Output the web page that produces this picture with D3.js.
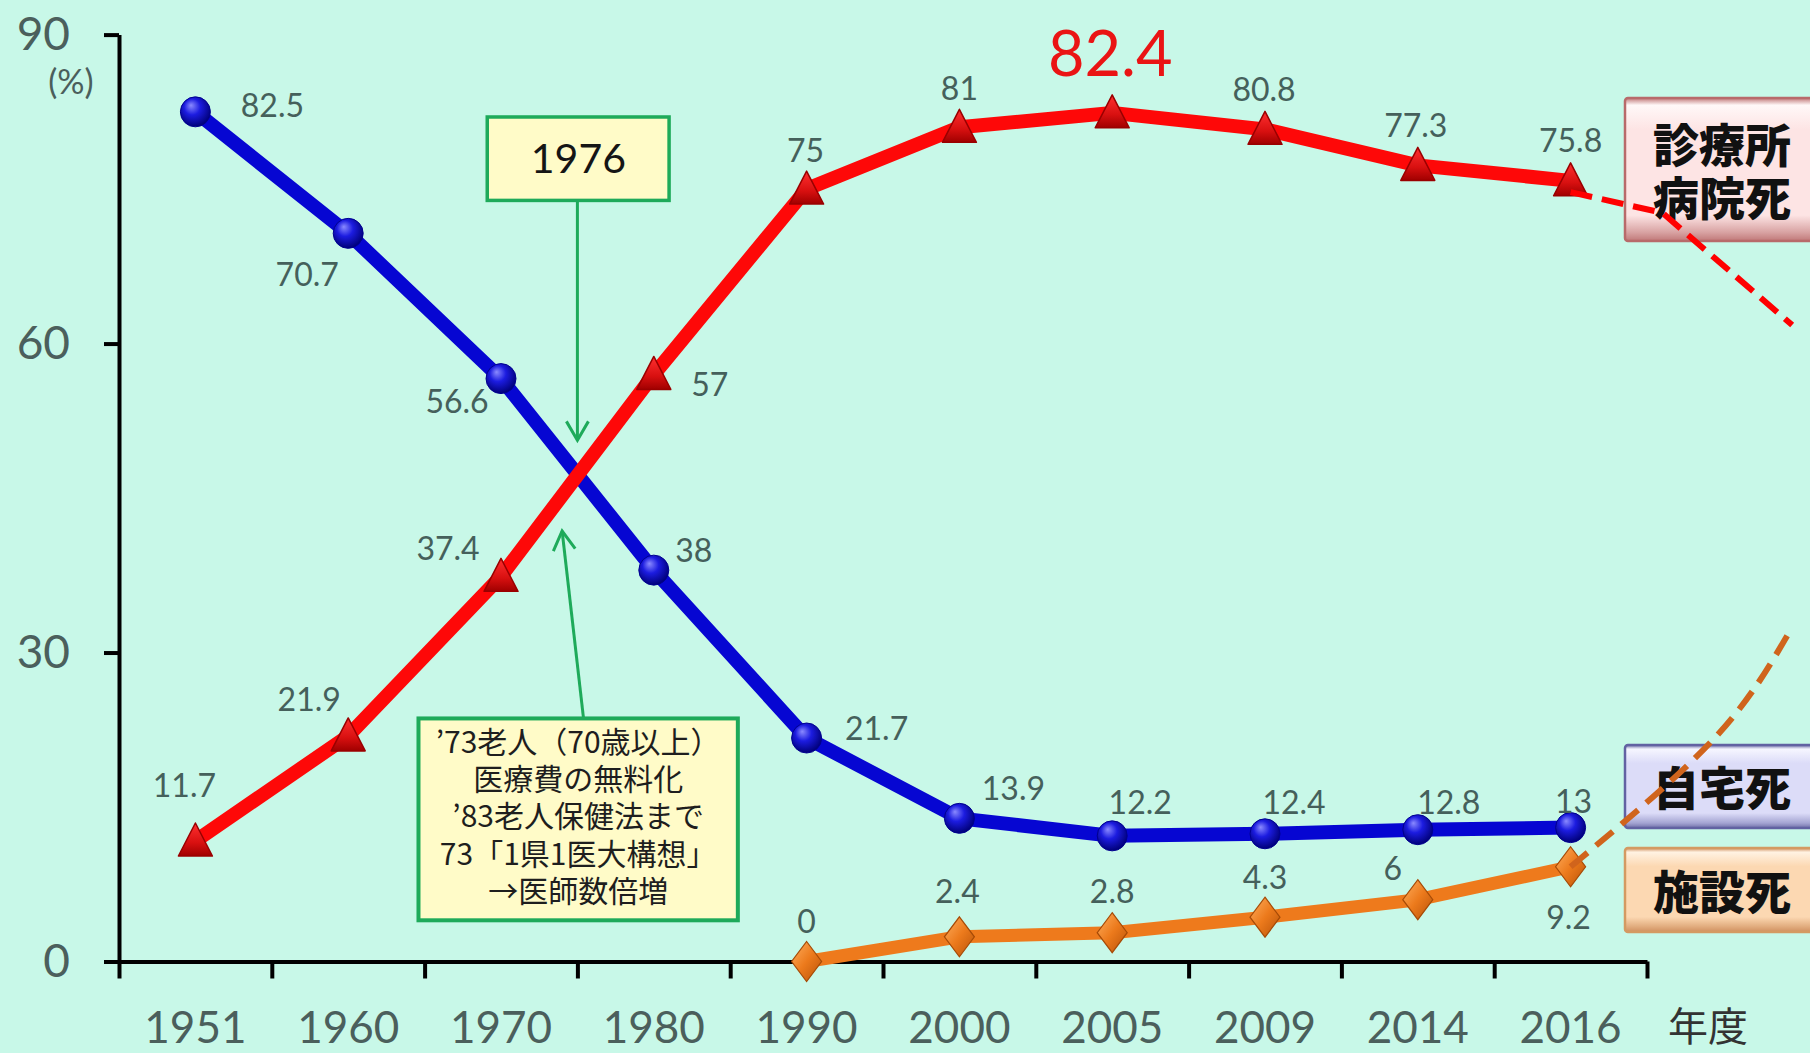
<!DOCTYPE html>
<html>
<head>
<meta charset="utf-8">
<script src="https://cdn.jsdelivr.net/npm/d3@7/dist/d3.min.js"></script>
<style>
  html, body { margin: 0; padding: 0; background: #c8f8e8; }
  svg { display: block; }
</style>
</head>
<body>
<svg id="chart" width="1810" height="1053"></svg>
<script>
// Place of death in Japan (%), by fiscal year
const years = ["1951", "1960", "1970", "1980", "1990", "2000", "2005", "2009", "2014", "2016"];
const hospital = [11.7, 21.9, 37.4, 57, 75, 81, 82.4, 80.8, 77.3, 75.8];   // 診療所・病院死
const home = [82.5, 70.7, 56.6, 38, 21.7, 13.9, 12.2, 12.4, 12.8, 13];     // 自宅死
const facility = [null, null, null, null, 0, 2.4, 2.8, 4.3, 6, 9.2];       // 施設死
const yTicks = [0, 30, 60, 90];

// Hand-drawn outlook beyond 2016: [category index, %]
const hospitalTrend = [[9, 74.7], [9.6, 72.7], [10.45, 61.8]];
const facilityTrend = [[9, 9.2], [9.93, 21.5], [10.42, 31.7]];

// Label placement (offset of label centre from its marker, px)
const homeLabelOffset = [[77, -6], [-41, 41], [-44, 23], [40, -20], [70, -10], [54, -30], [28, -33], [29, -31], [31, -27], [3, -26]];
const hospitalLabelOffset = [[-11, -56], [-39, -36], [-53, -28], [56, 10], [-1, -39], [0, -39], [-2, -60], [-1, -40], [-2, -40], [0, -40]];
const facilityLabelOffset = [null, null, null, null, [0, -40], [-2, -45], [0, -41], [0, -40], [-25, -31], [-2, 51]];
const peakIndex = 6;

const W = 1810, H = 1053;
const svg = d3.select("#chart");
const NUM_FONT = "Lato, 'Open Sans', sans-serif";
const JP_FONT = "'Noto Sans CJK JP', 'Noto Sans', sans-serif";
const LABEL_COLOR = "#45605b";

svg.append("rect").attr("width", W).attr("height", H).attr("fill", "#c8f8e8");

const x = d3.scaleBand().domain(years).range([119, 1647]);
const xi = d3.scaleLinear().domain([-0.5, 9.5]).range([119, 1647]);
const y = d3.scaleLinear().domain([0, 90]).range([961.5, 34.6]);
const cx = i => x(years[i]) + x.bandwidth() / 2;

// ---------- gradients ----------
const defs = svg.append("defs");
const sphere = defs.append("radialGradient").attr("id", "ball").attr("cx", "45%").attr("cy", "40%").attr("r", "60%").attr("fx", "35%").attr("fy", "28%");
sphere.append("stop").attr("offset", "0%").attr("stop-color", "#8a8aff");
sphere.append("stop").attr("offset", "45%").attr("stop-color", "#1c1ce0");
sphere.append("stop").attr("offset", "100%").attr("stop-color", "#000078");

const tri = defs.append("linearGradient").attr("id", "tri").attr("x1", 0).attr("y1", 0).attr("x2", 0).attr("y2", 1);
tri.append("stop").attr("offset", "0%").attr("stop-color", "#ff3030");
tri.append("stop").attr("offset", "60%").attr("stop-color", "#d81010");
tri.append("stop").attr("offset", "100%").attr("stop-color", "#a00000");

const dia = defs.append("linearGradient").attr("id", "dia").attr("x1", 0).attr("y1", 0).attr("x2", 1).attr("y2", 1);
dia.append("stop").attr("offset", "0%").attr("stop-color", "#ffb060");
dia.append("stop").attr("offset", "50%").attr("stop-color", "#ec7a1c");
dia.append("stop").attr("offset", "100%").attr("stop-color", "#b85208");

function bevel(id, edge, light, body, shade) {
  const g = defs.append("linearGradient").attr("id", id).attr("x1", 0).attr("y1", 0).attr("x2", 0).attr("y2", 1);
  [[0, edge], [0.05, light], [0.22, body], [0.82, body], [0.94, shade], [1, edge]]
    .forEach(([o, c]) => g.append("stop").attr("offset", o).attr("stop-color", c));
}
bevel("bxPink", "#c07878", "#fff8f8", "#fde4e4", "#d8a2a2");
bevel("bxBlue", "#7070a8", "#f6f6ff", "#dcdcf8", "#a4a4d2");
bevel("bxPeach", "#d09060", "#fff2e2", "#fcd8b2", "#e0aa7c");

// ---------- axes ----------
const yAxis = svg.append("g").attr("transform", "translate(119,0)")
  .call(d3.axisLeft(y).tickValues(yTicks).tickSize(15).tickSizeOuter(0).tickPadding(34));
yAxis.selectAll("path, line").attr("stroke", "#000").attr("stroke-width", 4);
yAxis.selectAll("text").attr("font-family", NUM_FONT).attr("font-size", 46).attr("fill", "#4b5f5c");

svg.append("text").attr("x", 71).attr("y", 82).attr("dy", "0.36em").attr("text-anchor", "middle")
  .attr("font-family", NUM_FONT).attr("font-size", 34).attr("fill", "#4b5f5c").text("(%)");

const xTicks = svg.append("g").attr("transform", "translate(0,961.5)")
  .call(d3.axisBottom(xi).tickValues(d3.range(-0.5, 10, 1)).tickSize(17).tickSizeOuter(0).tickFormat(""));
xTicks.selectAll("path, line").attr("stroke", "#000").attr("stroke-width", 4);

const xLabels = svg.append("g").attr("transform", "translate(0,961.5)")
  .call(d3.axisBottom(x).tickSize(0).tickPadding(50));
xLabels.select(".domain").remove();
xLabels.selectAll("text").attr("font-family", NUM_FONT).attr("font-size", 44).attr("fill", "#4b5f5c");

svg.append("text").attr("x", 1668).attr("y", 1041)
  .attr("font-family", JP_FONT).attr("font-size", 40).attr("fill", "#333").text("年度");

// ---------- annotations ----------
const GREEN = "#1eaa5a";
function chevron(tipX, tipY, dirX, dirY) {
  const len = Math.hypot(dirX, dirY), ux = dirX / len, uy = dirY / len;
  const px = -uy, py = ux, L = 19, Wd = 11;
  return `M${tipX - ux * L + px * Wd},${tipY - uy * L + py * Wd}L${tipX},${tipY}L${tipX - ux * L - px * Wd},${tipY - uy * L - py * Wd}`;
}

// 1976 crossover marker
const b1 = { i0: 1.91, i1: 3.10, top: 82.0, bottom: 73.9, tip: 50.6, at: 2.5 };
svg.append("line").attr("x1", xi(b1.at)).attr("y1", y(b1.bottom)).attr("x2", xi(b1.at)).attr("y2", y(b1.tip))
  .attr("stroke", GREEN).attr("stroke-width", 3);
svg.append("path").attr("d", chevron(xi(b1.at), y(b1.tip), 0, 1)).attr("fill", "none").attr("stroke", GREEN).attr("stroke-width", 3);
svg.append("rect").attr("x", xi(b1.i0)).attr("y", y(b1.top)).attr("width", xi(b1.i1) - xi(b1.i0)).attr("height", y(b1.bottom) - y(b1.top))
  .attr("fill", "#fffbc8").attr("stroke", GREEN).attr("stroke-width", 3.5);
svg.append("text").attr("x", xi(b1.at) + 1).attr("y", (y(b1.top) + y(b1.bottom)) / 2).attr("dy", "0.36em").attr("text-anchor", "middle")
  .attr("font-family", NUM_FONT).attr("font-size", 41).attr("fill", "#151515").text("1976");

// policy note box
const b2 = { i0: 1.46, i1: 3.55, top: 23.6, bottom: 4.0, fromI: 2.54, tipI: 2.40, tip: 41.8 };
const ax1 = xi(b2.fromI), ay1 = y(b2.top), ax2 = xi(b2.tipI), ay2 = y(b2.tip);
svg.append("line").attr("x1", ax1).attr("y1", ay1).attr("x2", ax2).attr("y2", ay2).attr("stroke", GREEN).attr("stroke-width", 3);
svg.append("path").attr("d", chevron(ax2, ay2, ax2 - ax1, ay2 - ay1)).attr("fill", "none").attr("stroke", GREEN).attr("stroke-width", 3);
svg.append("rect").attr("x", xi(b2.i0)).attr("y", y(b2.top)).attr("width", xi(b2.i1) - xi(b2.i0)).attr("height", y(b2.bottom) - y(b2.top))
  .attr("fill", "#fffbc8").attr("stroke", GREEN).attr("stroke-width", 4);
const noteLines = ["’73老人（70歳以上）", "医療費の無料化", "’83老人保健法まで", "73「1県1医大構想」", "→医師数倍増"];
const noteX = (xi(b2.i0) + xi(b2.i1)) / 2;
svg.append("text").attr("x", noteX).attr("y", 742).attr("text-anchor", "middle")
  .attr("font-family", JP_FONT).attr("font-size", 30).attr("fill", "#1e1e1e")
  .selectAll("tspan").data(noteLines).join("tspan")
  .attr("x", noteX).attr("dy", (d, k) => k === 0 ? "0.36em" : 37.3).text(d => d);

// ---------- legend tags ----------
const tags = [
  { lines: ["診療所", "病院死"], y0: 98, y1: 241, fill: "url(#bxPink)", stroke: "#b86a6a" },
  { lines: ["自宅死"], y0: 745, y1: 828, fill: "url(#bxBlue)", stroke: "#6262a2" },
  { lines: ["施設死"], y0: 848, y1: 932, fill: "url(#bxPeach)", stroke: "#d49a62" }
];
const tagG = svg.append("g");
tags.forEach(t => {
  tagG.append("rect").attr("x", 1625).attr("y", t.y0).attr("width", 200).attr("height", t.y1 - t.y0).attr("rx", 3)
    .attr("fill", t.fill).attr("stroke", t.stroke).attr("stroke-width", 2.5);
  const mid = (t.y0 + t.y1) / 2, step = 53, n = t.lines.length;
  tagG.append("text").attr("x", 1722).attr("y", mid - (n - 1) / 2 * step + 2).attr("text-anchor", "middle")
    .attr("font-family", JP_FONT).attr("font-weight", 900).attr("font-size", 46).attr("fill", "#111")
    .selectAll("tspan").data(t.lines).join("tspan")
    .attr("x", 1722).attr("dy", (d, k) => k === 0 ? "0.36em" : step).text(d => d);
});

// ---------- series ----------
function series(values, color, width) {
  const pts = values.map((v, i) => [i, v]).filter(d => d[1] !== null);
  svg.append("path").datum(pts)
    .attr("d", d3.line().x(d => cx(d[0])).y(d => y(d[1])))
    .attr("fill", "none").attr("stroke", color).attr("stroke-width", width)
    .attr("stroke-linejoin", "round").attr("stroke-linecap", "butt");
  return pts;
}

function labels(pts, offsets, fmt) {
  svg.append("g").selectAll("text").data(pts).join("text")
    .attr("x", d => cx(d[0]) + offsets[d[0]][0])
    .attr("y", d => y(d[1]) + offsets[d[0]][1])
    .attr("dy", "0.36em").attr("text-anchor", "middle")
    .attr("font-family", NUM_FONT).attr("font-size", 32).attr("fill", LABEL_COLOR)
    .text(d => fmt(d));
}

// home
const homePts = series(home, "#0606d2", 14);
svg.append("g").selectAll("circle").data(homePts).join("circle")
  .attr("cx", d => cx(d[0])).attr("cy", d => y(d[1])).attr("r", 15)
  .attr("fill", "url(#ball)").attr("stroke", "#000090").attr("stroke-width", 1);

// hospital
const hospPts = series(hospital, "#fe0808", 14);
svg.append("g").selectAll("path").data(hospPts).join("path")
  .attr("d", d => { const px = cx(d[0]), py = y(d[1]); return `M${px},${py - 18}L${px + 17},${py + 15}L${px - 17},${py + 15}Z`; })
  .attr("fill", "url(#tri)").attr("stroke", "#9a0000").attr("stroke-width", 1.5).attr("stroke-linejoin", "round");

// facility
const facPts = series(facility, "#ee7a1c", 13);
svg.append("g").selectAll("path").data(facPts).join("path")
  .attr("d", d => { const px = cx(d[0]), py = y(d[1]); return `M${px},${py - 20}L${px + 15},${py}L${px},${py + 20}L${px - 15},${py}Z`; })
  .attr("fill", "url(#dia)").attr("stroke", "#a64a06").attr("stroke-width", 1.2);

// value labels
labels(homePts, homeLabelOffset, d => d[1]);
labels(hospPts.filter(d => d[0] !== peakIndex), hospitalLabelOffset, d => d[1]);
labels(facPts, facilityLabelOffset, d => d[1]);

const peak = [peakIndex, hospital[peakIndex]];
svg.append("text")
  .attr("x", cx(peak[0]) + hospitalLabelOffset[peakIndex][0])
  .attr("y", y(peak[1]) + hospitalLabelOffset[peakIndex][1])
  .attr("dy", "0.36em").attr("text-anchor", "middle")
  .attr("font-family", NUM_FONT).attr("font-size", 63).attr("fill", "#ea1414").text(peak[1]);

// ---------- outlook (dashed) ----------
svg.append("path").datum(hospitalTrend)
  .attr("d", d3.line().x(d => xi(d[0])).y(d => y(d[1])))
  .attr("fill", "none").attr("stroke", "#ff0000").attr("stroke-width", 6).attr("stroke-dasharray", "22 10");
svg.append("path").datum(facilityTrend)
  .attr("d", d3.line().curve(d3.curveNatural).x(d => xi(d[0])).y(d => y(d[1])))
  .attr("fill", "none").attr("stroke", "#d0641c").attr("stroke-width", 6).attr("stroke-dasharray", "22 11");
</script>
</body>
</html>
